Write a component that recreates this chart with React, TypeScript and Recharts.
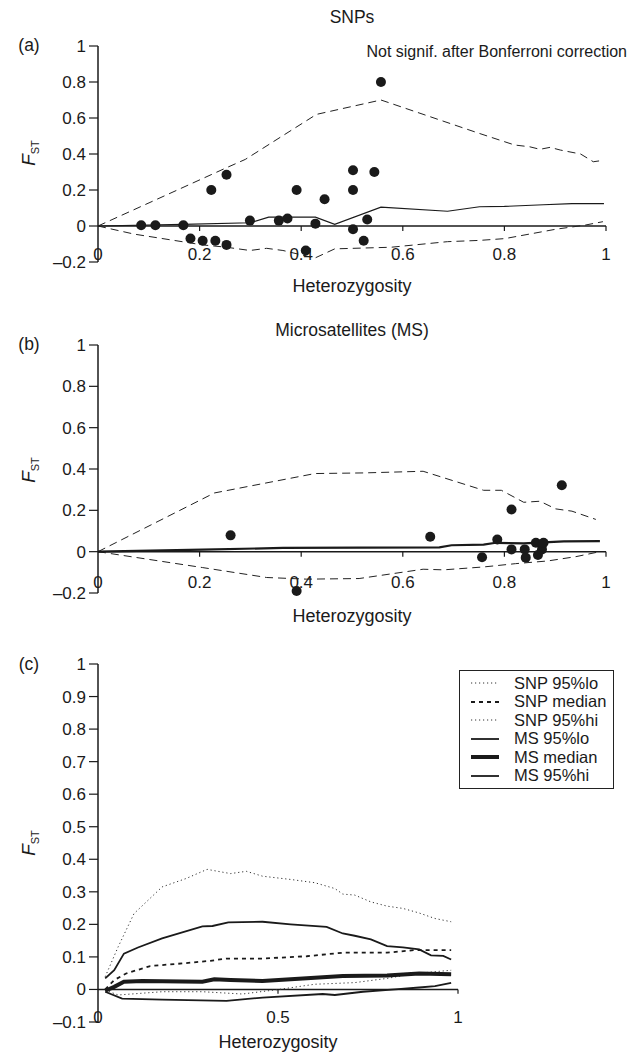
import React from 'react';
import { ComposedChart, Line, Scatter, XAxis, YAxis, ReferenceLine, Legend } from 'recharts';

const FONT = '"Liberation Sans", Arial, Helvetica, sans-serif';
const INK = '#1a1a1a';

// (a) SNPs — observed loci [heterozygosity, Fst]
const snpPoints = [
  [0.085, 0.004], [0.113, 0.004], [0.168, 0.004], [0.182, -0.069], [0.206, -0.082],
  [0.223, 0.2], [0.231, -0.082], [0.253, 0.285], [0.253, -0.105], [0.299, 0.03],
  [0.356, 0.03], [0.373, 0.042], [0.391, 0.2], [0.409, -0.136], [0.428, 0.013],
  [0.446, 0.149], [0.502, 0.31], [0.502, 0.2], [0.502, -0.018], [0.523, -0.082],
  [0.53, 0.036], [0.544, 0.3], [0.557, 0.8],
];
const snpHi = [
  [0, 0], [0.25, 0.32], [0.29, 0.37], [0.43, 0.62], [0.557, 0.7], [0.75, 0.515],
  [0.82, 0.45], [0.85, 0.44], [0.87, 0.426], [0.89, 0.437], [0.91, 0.422],
  [0.95, 0.4], [0.975, 0.357], [0.99, 0.363],
];
const snpMedian = [
  [0, 0], [0.168, 0.009], [0.3, 0.018], [0.336, 0.049], [0.428, 0.049], [0.466, 0.009],
  [0.557, 0.105], [0.688, 0.082], [0.751, 0.107], [0.8, 0.109], [0.877, 0.118],
  [0.933, 0.124], [0.996, 0.124],
];
const snpLo = [
  [0, 0], [0.071, -0.045], [0.206, -0.105], [0.253, -0.118], [0.299, -0.136],
  [0.332, -0.124], [0.364, -0.136], [0.427, -0.178], [0.466, -0.127], [0.577, -0.118],
  [0.688, -0.087], [0.751, -0.08], [0.801, -0.07], [0.901, -0.018], [0.957, 0.004],
  [0.994, 0.024],
];

// (b) Microsatellites
const msPoints = [
  [0.261, 0.079], [0.391, -0.19], [0.654, 0.072], [0.756, -0.027], [0.786, 0.059],
  [0.814, 0.204], [0.814, 0.011], [0.84, 0.011], [0.842, -0.029], [0.862, 0.043],
  [0.866, -0.016], [0.874, 0.011], [0.877, 0.043], [0.913, 0.321],
];
const msHi = [
  [0, 0], [0.229, 0.284], [0.427, 0.378], [0.522, 0.381], [0.64, 0.389], [0.759, 0.297],
  [0.794, 0.297], [0.838, 0.239], [0.87, 0.244], [0.901, 0.207], [0.933, 0.196],
  [0.98, 0.156],
];
const msMedian = [
  [0, 0], [0.206, 0.01], [0.364, 0.018], [0.672, 0.021], [0.696, 0.031], [0.759, 0.034],
  [0.783, 0.043], [0.838, 0.04], [0.917, 0.05], [0.988, 0.051],
];
const msLo = [
  [0, 0], [0.206, -0.077], [0.332, -0.125], [0.411, -0.133], [0.514, -0.13], [0.64, -0.085],
  [0.68, -0.088], [0.759, -0.074], [0.822, -0.058], [0.885, -0.045], [0.941, -0.024],
  [0.988, 0],
];

// (c) comparison of simulated envelopes
const cSnpHi = [
  [0.02, 0.039], [0.056, 0.131], [0.1, 0.233], [0.178, 0.315], [0.245, 0.341], [0.303, 0.369],
  [0.368, 0.356], [0.412, 0.363], [0.457, 0.348], [0.535, 0.338], [0.602, 0.328],
  [0.658, 0.31], [0.68, 0.293], [0.713, 0.29], [0.758, 0.269], [0.803, 0.256],
  [0.847, 0.249], [0.892, 0.235], [0.936, 0.218], [0.981, 0.208],
];
const cSnpMedian = [
  [0.02, 0.0], [0.045, 0.029], [0.078, 0.049], [0.145, 0.072], [0.234, 0.08], [0.312, 0.088],
  [0.357, 0.095], [0.457, 0.095], [0.58, 0.102], [0.68, 0.113], [0.803, 0.113],
  [0.881, 0.121], [0.981, 0.121],
];
const cSnpLo = [
  [0.02, -0.002], [0.056, -0.017], [0.178, -0.007], [0.29, -0.007], [0.401, -0.014],
  [0.502, 0.0], [0.602, 0.016], [0.713, 0.021], [0.803, 0.034], [0.881, 0.049], [0.981, 0.059],
];
const cMsHi = [
  [0.02, 0.034], [0.045, 0.059], [0.072, 0.11], [0.111, 0.129], [0.178, 0.157], [0.29, 0.194],
  [0.318, 0.195], [0.362, 0.206], [0.457, 0.208], [0.535, 0.2], [0.635, 0.192],
  [0.68, 0.172], [0.713, 0.165], [0.758, 0.154], [0.803, 0.133], [0.847, 0.129],
  [0.892, 0.123], [0.925, 0.105], [0.959, 0.103], [0.981, 0.092],
];
const cMsMedian = [
  [0.02, -0.004], [0.045, 0.008], [0.072, 0.024], [0.123, 0.026], [0.29, 0.024], [0.323, 0.031],
  [0.368, 0.029], [0.457, 0.026], [0.569, 0.034], [0.68, 0.041], [0.803, 0.043],
  [0.892, 0.049], [0.981, 0.047],
];
const cMsLo = [
  [0.02, -0.007], [0.067, -0.028], [0.178, -0.031], [0.357, -0.035], [0.457, -0.025],
  [0.624, -0.014], [0.658, -0.017], [0.736, -0.007], [0.825, 0.0], [0.892, 0.006],
  [0.936, 0.01], [0.981, 0.02],
];

const yTicksAB = [-0.2, 0, 0.2, 0.4, 0.6, 0.8, 1];
const xTicksAB = [0, 0.2, 0.4, 0.6, 0.8, 1];
const yTicksC = [-0.1, 0, 0.1, 0.2, 0.3, 0.4, 0.5, 0.6, 0.7, 0.8, 0.9, 1];
const xTicksC = [0, 0.5, 1];

const legendNames = ['SNP 95%lo', 'SNP median', 'SNP 95%hi', 'MS 95%lo', 'MS median', 'MS 95%hi'];

const toXY = (arr: number[][]) => arr.map(([x, y]) => ({ x, y }));
const fmt = (v: number) => (v < 0 ? `\u2013${Math.abs(v)}` : String(v));

const dotted = { stroke: '#333', strokeWidth: 1, strokeDasharray: '1.2 2.8' };
const cStyles: Record<string, any> = {
  'SNP 95%lo': dotted,
  'SNP median': { stroke: INK, strokeWidth: 1.8, strokeDasharray: '4 4' },
  'SNP 95%hi': dotted,
  'MS 95%lo': { stroke: INK, strokeWidth: 1.8 },
  'MS median': { stroke: INK, strokeWidth: 4 },
  'MS 95%hi': { stroke: INK, strokeWidth: 1.8 },
};

const XTick = (props: any) => {
  const { x, y, payload, dy } = props;
  return (
    <text x={x} y={y + dy} textAnchor="middle" dominantBaseline="central" fontSize={17} fill={INK} fontFamily={FONT}>
      {fmt(payload.value)}
    </text>
  );
};

const Dot = (props: any) => <circle cx={props.cx} cy={props.cy} r={5} fill={INK} />;

const Txt = ({ x, y, size, anchor = 'middle', children }: any) => {
  const tx = anchor === 'middle' ? '-50%' : anchor === 'end' ? '-100%' : '0';
  return (
    <div style={{ position: 'absolute', left: x, top: y, transform: `translate(${tx},-50%)`, fontSize: size, whiteSpace: 'nowrap', lineHeight: 1 }}>
      {children}
    </div>
  );
};

const FstLabel = ({ y }: { y: number }) => (
  <div style={{ position: 'absolute', left: 30, top: y, transform: 'translate(-50%,-50%) rotate(-90deg)', fontSize: 19, whiteSpace: 'nowrap', lineHeight: 1 }}>
    <i>F</i>
    <span style={{ fontSize: 11, verticalAlign: -4 }}>ST</span>
  </div>
);

function axisParts(xTicks: number[], tickDepth: number, labelDy: number, yDomain: number[], yTicks: number[]) {
  return [
    <XAxis key="xa" type="number" dataKey="x" domain={[0, 1]} ticks={xTicks} axisLine={false} tickLine={false}
      tickSize={0} tickMargin={0} height={20} interval={0} tick={(p: any) => <XTick {...p} dy={labelDy} />} />,
    <YAxis key="ya" type="number" dataKey="y" domain={yDomain} ticks={yTicks} interval={0} width={60}
      axisLine={{ stroke: INK, strokeWidth: 1.5 }} tickLine={{ stroke: INK, strokeWidth: 1.2 }} tickSize={9} tickMargin={3}
      tickFormatter={fmt} tick={{ fontSize: 17, fill: INK, fontFamily: FONT }} />,
    <ReferenceLine key="zero" segment={[{ x: 0, y: 0 }, { x: 1, y: 0 }]} stroke={INK} strokeWidth={1.5} />,
    ...xTicks.filter((t) => t > 0).map((t) => (
      <ReferenceLine key={`t${t}`} segment={[{ x: t, y: 0 }, { x: t, y: -tickDepth }]} stroke={INK} strokeWidth={1.2} />
    )),
  ];
}

const CLegend = () => (
  <div style={{ width: 153, border: '1.2px solid #222', padding: '3px 0', background: '#fff', fontFamily: FONT }}>
    {legendNames.map((n) => {
      const s = cStyles[n];
      return (
        <div key={n} style={{ display: 'flex', alignItems: 'center', height: 18.5 }}>
          <svg width={54} height={10}>
            <line x1={11} x2={39} y1={5} y2={5} {...s} />
          </svg>
          <span style={{ fontSize: 16.5, color: INK }}>{n}</span>
        </div>
      );
    })}
  </div>
);

export default function App() {
  return (
    <div style={{ position: 'absolute', left: 0, top: 0, width: 631, height: 1052, background: '#fff', fontFamily: FONT, color: INK, overflow: 'hidden' }}>
      {/* (a) SNPs */}
      <div style={{ position: 'absolute', left: 0, top: 0 }}>
        <ComposedChart width={631} height={300} margin={{ top: 46, right: 25, bottom: 18, left: 38 }}>
          {axisParts(xTicksAB, 0.028, -7.5, [-0.2, 1], yTicksAB)}
          <Line data={toXY(snpHi)} dataKey="y" stroke="#222" strokeWidth={1} strokeDasharray="8 5" dot={false} activeDot={false} isAnimationActive={false} />
          <Line data={toXY(snpLo)} dataKey="y" stroke="#222" strokeWidth={1} strokeDasharray="8 5" dot={false} activeDot={false} isAnimationActive={false} />
          <Line data={toXY(snpMedian)} dataKey="y" stroke={INK} strokeWidth={1.2} dot={false} activeDot={false} isAnimationActive={false} />
          <Scatter data={toXY(snpPoints)} dataKey="y" shape={Dot} isAnimationActive={false} />
        </ComposedChart>
      </div>
      <Txt x={352} y={18} size={17.5}>SNPs</Txt>
      <Txt x={29} y={46} size={17.5}>(a)</Txt>
      <Txt x={627} y={52} size={16} anchor="end">Not signif. after Bonferroni correction</Txt>
      <Txt x={352} y={286} size={18}>Heterozygosity</Txt>
      <FstLabel y={153} />

      {/* (b) Microsatellites */}
      <div style={{ position: 'absolute', left: 0, top: 300 }}>
        <ComposedChart width={631} height={330} margin={{ top: 45, right: 25, bottom: 17, left: 38 }}>
          {axisParts(xTicksAB, 0.024, -11, [-0.2, 1], yTicksAB)}
          <Line data={toXY(msHi)} dataKey="y" stroke="#222" strokeWidth={1} strokeDasharray="8 5" dot={false} activeDot={false} isAnimationActive={false} />
          <Line data={toXY(msLo)} dataKey="y" stroke="#222" strokeWidth={1} strokeDasharray="8 5" dot={false} activeDot={false} isAnimationActive={false} />
          <Line data={toXY(msMedian)} dataKey="y" stroke={INK} strokeWidth={2.2} dot={false} activeDot={false} isAnimationActive={false} />
          <Scatter data={toXY(msPoints)} dataKey="y" shape={Dot} isAnimationActive={false} />
        </ComposedChart>
      </div>
      <Txt x={352} y={331} size={17.5}>Microsatellites (MS)</Txt>
      <Txt x={29} y={345} size={17.5}>(b)</Txt>
      <Txt x={352} y={616} size={18}>Heterozygosity</Txt>
      <FstLabel y={470} />

      {/* (c) comparison */}
      <div style={{ position: 'absolute', left: 0, top: 630 }}>
        <ComposedChart width={631} height={422} margin={{ top: 34, right: 173, bottom: 10, left: 38 }}>
          {axisParts(xTicksC, 0.013, -5, [-0.1, 1], yTicksC)}
          <Line data={toXY(cSnpHi)} dataKey="y" {...cStyles['SNP 95%hi']} dot={false} activeDot={false} isAnimationActive={false} />
          <Line data={toXY(cSnpLo)} dataKey="y" {...cStyles['SNP 95%lo']} dot={false} activeDot={false} isAnimationActive={false} />
          <Line data={toXY(cSnpMedian)} dataKey="y" {...cStyles['SNP median']} dot={false} activeDot={false} isAnimationActive={false} />
          <Line data={toXY(cMsHi)} dataKey="y" {...cStyles['MS 95%hi']} dot={false} activeDot={false} isAnimationActive={false} />
          <Line data={toXY(cMsLo)} dataKey="y" {...cStyles['MS 95%lo']} dot={false} activeDot={false} isAnimationActive={false} />
          <Line data={toXY(cMsMedian)} dataKey="y" {...cStyles['MS median']} dot={false} activeDot={false} isAnimationActive={false} />
          <Legend layout="vertical" align="center" verticalAlign="middle" content={<CLegend />}
            wrapperStyle={{ left: 459, top: 40, width: 155 }} />
        </ComposedChart>
      </div>
      <Txt x={29} y={665} size={17.5}>(c)</Txt>
      <Txt x={278} y={1042} size={18}>Heterozygosity</Txt>
      <FstLabel y={843} />
    </div>
  );
}
